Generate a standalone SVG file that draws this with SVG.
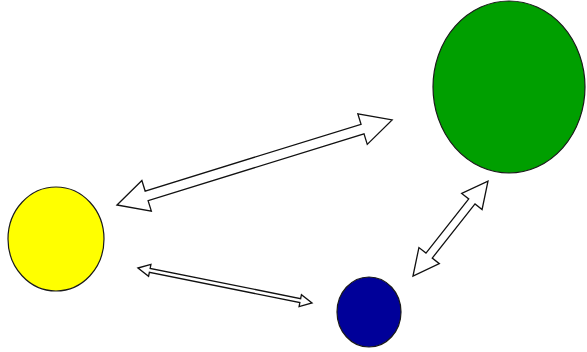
<svg xmlns="http://www.w3.org/2000/svg" width="587" height="352" viewBox="0 0 587 352">
<style>
.node{stroke:#1a1a1a;stroke-width:1.2}
.arrow{fill:#ffffff;stroke:#111111;stroke-width:1.3;stroke-linejoin:miter}
</style>
<rect width="587" height="352" fill="#ffffff"/>
<g id="yellow"><ellipse class="node" cx="56" cy="239" rx="48" ry="52" fill="#ffff00"/></g>
<g id="green"><ellipse class="node" cx="509" cy="87" rx="76" ry="86" fill="#009f00"/></g>
<g id="blue"><ellipse class="node" cx="369" cy="312" rx="32" ry="35" fill="#000099"/></g>
<g id="connectors">
<polygon class="arrow" transform="translate(117,205) rotate(-17.18)" points="0,0 31,-16 31,-5 257,-5 257,-16 288,0 257,16 257,5 31,5 31,16"/>
<polygon class="arrow" transform="translate(138,268) rotate(11.37)" points="0,0 12,-6 12,-2 165.5,-2 165.5,-6 177.5,0 165.5,6 165.5,2 12,2 12,6"/>
<polygon class="arrow" transform="translate(413,276) rotate(-51.7)" points="0,0 26,-13 26,-4 95,-4 95,-13 121,0 95,13 95,4 26,4 26,13"/>
</g>
</svg>
